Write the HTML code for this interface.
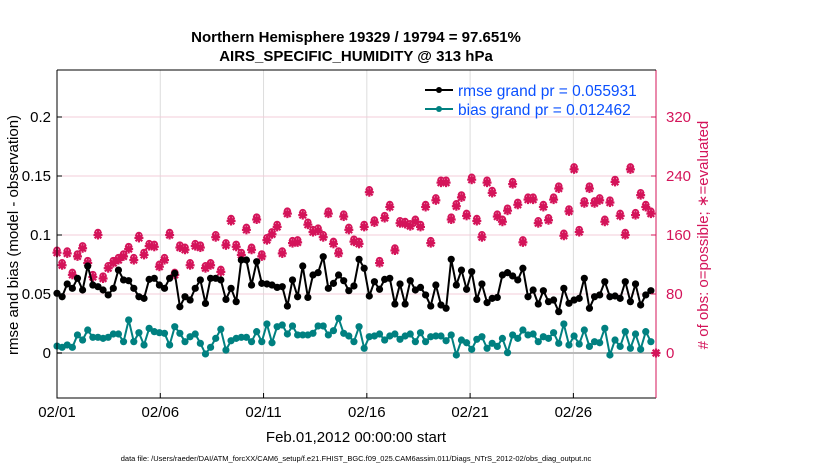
<!DOCTYPE html>
<html><head><meta charset="utf-8"><style>
body{margin:0;background:#fff;width:830px;height:470px;overflow:hidden}
svg text{font-family:"Liberation Sans",Arial,sans-serif}
</style></head><body>
<svg id="chart" width="830" height="470" xmlns="http://www.w3.org/2000/svg">
<text x="356" y="42" text-anchor="middle" font-size="15" font-weight="bold">Northern Hemisphere 19329 / 19794 = 97.651%</text>
<text x="356" y="61" text-anchor="middle" font-size="15" font-weight="bold">AIRS_SPECIFIC_HUMIDITY @ 313 hPa</text>
<g id="grid"></g>
<g id="marks"></g>
<g id="axes"></g>
<g>
<line x1="425" y1="90" x2="453" y2="90" stroke="#000" stroke-width="2"/><circle cx="439" cy="90" r="3" fill="#000"/>
<text x="458" y="96" font-size="15.5" fill="#0a50ff">rmse grand pr = 0.055931</text>
<line x1="425" y1="109" x2="453" y2="109" stroke="#008080" stroke-width="2"/><circle cx="439" cy="109" r="3" fill="#008080"/>
<text x="458" y="115" font-size="15.5" fill="#0a50ff">bias grand pr = 0.012462</text>
</g>
<text transform="translate(18,235) rotate(-90)" text-anchor="middle" font-size="15">rmse and bias (model - observation)</text>
<text transform="translate(708,235) rotate(-90)" text-anchor="middle" font-size="15" fill="#d4145a"># of obs: o=possible; ∗=evaluated</text>
<text x="356" y="442" text-anchor="middle" font-size="15">Feb.01,2012 00:00:00 start</text>
<text x="356" y="461" text-anchor="middle" font-size="7.5">data file: /Users/raeder/DAI/ATM_forcXX/CAM6_setup/f.e21.FHIST_BGC.f09_025.CAM6assim.011/Diags_NTrS_2012-02/obs_diag_output.nc</text>
</svg>
<script>
const rmse=[0.0506,0.0477,0.0585,0.0548,0.0633,0.0534,0.0737,0.0576,0.0562,0.0534,0.0492,0.0548,0.0703,0.0619,0.0613,0.0548,0.0477,0.0463,0.0624,0.0633,0.0576,0.0548,0.0633,0.0675,0.0392,0.0477,0.0449,0.0548,0.0619,0.0420,0.0633,0.0633,0.0619,0.0454,0.0548,0.0435,0.0788,0.0788,0.0576,0.0774,0.0590,0.0585,0.0576,0.0556,0.0562,0.0398,0.0619,0.0477,0.0737,0.0471,0.0661,0.0681,0.0816,0.0548,0.0590,0.0661,0.0613,0.0528,0.0568,
0.0794,0.0718,0.0483,0.0604,0.0540,0.0624,0.0633,0.0415,0.0585,0.0415,0.0613,0.0534,0.0556,0.0492,0.0398,0.0576,0.0407,0.0379,0.0794,0.0576,0.0703,0.0540,0.0689,0.0454,0.0585,0.0427,0.0463,0.0471,0.0661,0.0681,0.0653,0.0619,0.0718,0.0477,0.0534,0.0415,0.0528,0.0435,0.0449,0.0350,0.0548,0.0421,0.0449,0.0463,0.0633,0.0379,0.0477,0.0492,0.0604,0.0477,0.0483,0.0463,0.0604,0.0435,0.0585,0.0407,0.0492,0.0528];
const bias=[0.0059,0.0048,0.0068,0.0048,0.0153,0.0110,0.0195,0.0133,0.0133,0.0124,0.0133,0.0161,0.0161,0.0096,0.0280,0.0096,0.0172,0.0068,0.0209,0.0181,0.0172,0.0167,0.0068,0.0223,0.0167,0.0096,0.0138,0.0161,0.0082,-0.0008,0.0048,0.0124,0.0201,0.0025,0.0104,0.0124,0.0133,0.0133,0.0096,0.0181,0.0096,0.0246,0.0087,0.0223,0.0237,0.0161,0.0229,0.0153,0.0153,0.0153,0.0167,0.0229,0.0229,0.0153,0.0189,0.0294,0.0167,0.0144,0.0096,
0.0223,0.0040,0.0138,0.0144,0.0161,0.0110,0.0144,0.0161,0.0116,0.0144,0.0161,0.0096,0.0172,0.0096,0.0138,0.0144,0.0144,0.0104,0.0153,-0.0017,0.0110,0.0087,0.0031,0.0116,0.0138,0.0040,0.0082,0.0056,0.0124,0.0003,0.0153,0.0124,0.0195,0.0153,0.0161,0.0096,0.0138,0.0124,0.0172,0.0082,0.0246,0.0068,0.0144,0.0076,0.0195,0.0056,0.0096,0.0087,0.0209,-0.0017,0.0110,0.0056,0.0181,0.0040,0.0161,0.0031,0.0181,0.0096];
const nobs=[136,119,135,106,131,142,122,103,160,101,115,122,126,131,141,126,156,133,145,144,117,126,160,106,143,140,119,145,143,115,119,157,110,146,179,144,133,167,140,181,131,153,161,171,135,189,149,150,187,174,164,166,157,189,148,135,185,167,151,
148,171,218,177,122,183,198,139,176,175,172,178,171,198,149,207,231,231,181,199,211,186,235,179,157,231,217,185,178,193,229,201,150,208,208,176,198,180,208,223,159,192,249,164,203,223,203,207,178,204,232,186,160,249,187,214,198,189,0];
const xTickLabels=["02/01","02/06","02/11","02/16","02/21","02/26"];
const xTickDays=[0,5,10,15,20,25];
const yLeftTicks=[0,0.05,0.1,0.15,0.2];
const yLeftLabels=["0","0.05","0.1","0.15","0.2"];
const yRightTicks=[0,80,160,240,320];

const L=57,R=656,T=70,B=398;
const xDay=d=>L+d*(R-L)/29;
const step=29/117;
const xIdx=i=>xDay(i*step);
const yL=v=>353-v*1180;
const yR=v=>353-v*0.7375;
const NS="http://www.w3.org/2000/svg";
function mk(tag,attrs,parent){const e=document.createElementNS(NS,tag);for(const k in attrs)e.setAttribute(k,attrs[k]);parent.appendChild(e);return e;}
const grid=document.getElementById('grid'),marks=document.getElementById('marks'),axes=document.getElementById('axes');
const RED="#d4145a";
xTickDays.forEach((d,i)=>{
  const g=mk('line',{x1:xDay(d),x2:xDay(d),y1:T,y2:B,stroke:"#dcdcdc","stroke-width":1},grid);
  
  
  const t=mk('line',{x1:xDay(d),x2:xDay(d),y1:B,y2:B-5,stroke:"#000"},axes);
  
  
  const lb=mk('text',{x:xDay(d),y:B+19,"text-anchor":"middle","font-size":15},axes);
  lb.textContent=xTickLabels[i];
  
  
});
yLeftTicks.forEach((v,i)=>{
  if(v>0){const g=mk('line',{x1:L,x2:R,y1:yL(v),y2:yL(v),stroke:"#f3ccd8","stroke-width":1},grid);
  
  }
  const t=mk('line',{x1:L,x2:L+5,y1:yL(v),y2:yL(v),stroke:"#000"},axes);
  
  
  const lb=mk('text',{x:L-6,y:yL(v)+5,"text-anchor":"end","font-size":15},axes);
  lb.textContent=yLeftLabels[i];
  
  
});
yRightTicks.forEach(v=>{
  const t=mk('line',{x1:R,x2:R-5,y1:yR(v),y2:yR(v),stroke:RED},axes);
  
  
  const lb=mk('text',{x:R+10,y:yR(v)+5,"font-size":15,fill:RED},axes);
  lb.textContent=String(v);
  
  
});
const z=mk('line',{x1:L,x2:R,y1:yL(0),y2:yL(0),stroke:"#b8b8b8","stroke-width":2},grid);


const ax1=mk('path',{d:`M${L},${T}V${B}H${R}`,fill:"none",stroke:"#000","stroke-width":1},axes);


const ax2=mk('line',{x1:R,x2:R,y1:T,y2:B,stroke:RED,"stroke-width":1},axes);


const ax3=mk('line',{x1:L,x2:R,y1:T,y2:T,stroke:"#000","stroke-width":1},axes);


// counts
nobs.forEach((v,i)=>{
  const x=xIdx(i),y=yR(v);
  const g=mk('g',{stroke:RED,"stroke-width":2.2,fill:"none"},marks);
  
  
  mk('line',{x1:x-4.5,x2:x+4.5,y1:y,y2:y},g);
  mk('line',{x1:x,x2:x,y1:y-4.5,y2:y+4.5},g);
  mk('line',{x1:x-3.3,x2:x+3.3,y1:y-3.3,y2:y+3.3},g);
  mk('line',{x1:x-3.3,x2:x+3.3,y1:y+3.3,y2:y-3.3},g);
  mk('circle',{cx:x,cy:y,r:2.2,fill:RED,stroke:"none"},g);
  if(v>0){mk('circle',{cx:x,cy:y-2.5,r:2.8,"stroke-width":1.8},g);}
});
function series(arr,color,name){
  const pts=arr.map((v,i)=>xIdx(i).toFixed(1)+","+yL(v).toFixed(1)).join(" ");
  const pl=mk('polyline',{points:pts,fill:"none",stroke:color,"stroke-width":2},marks);
  
  
  arr.forEach((v,i)=>{
    const c=mk('circle',{cx:xIdx(i),cy:yL(v),r:3.6,fill:color},marks);
    
    
  });
}
series(bias,"#008080","bias");
series(rmse,"#000","rmse");
</script>
</body></html>
